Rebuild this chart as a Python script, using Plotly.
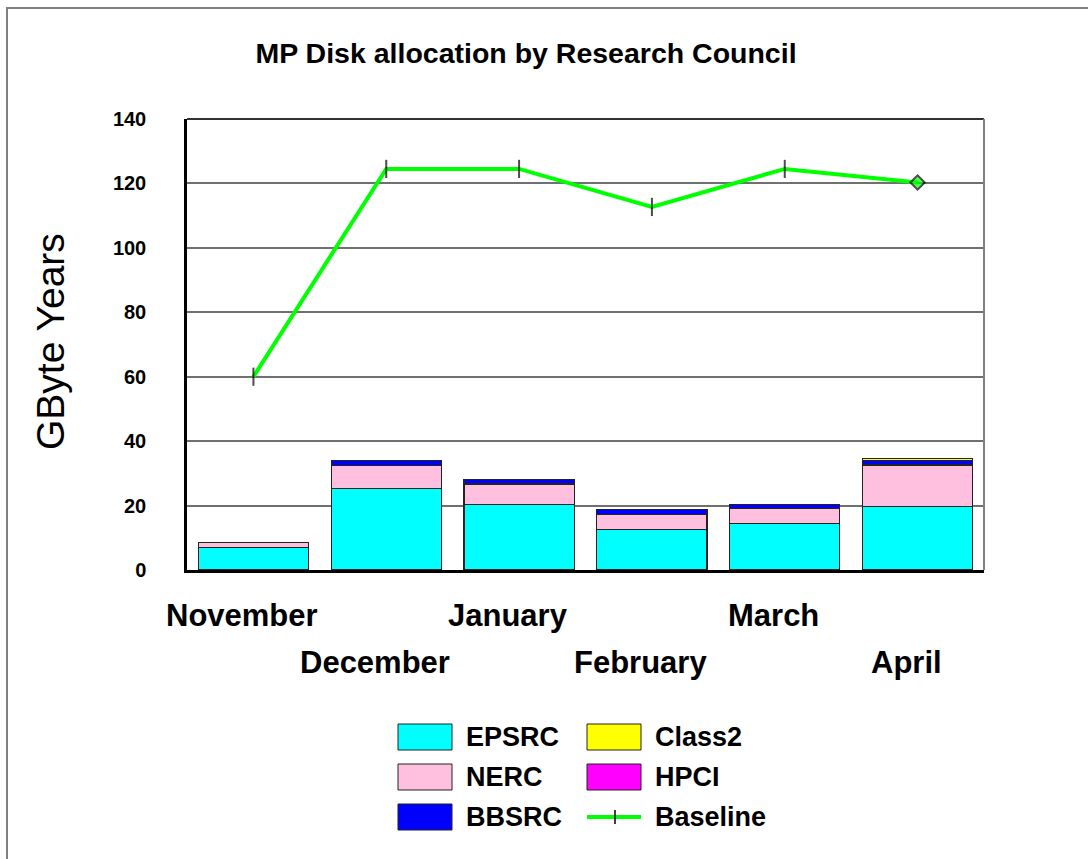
import plotly.graph_objects as go

# --- data -------------------------------------------------------------
months = ["November", "December", "January", "February", "March", "April"]

epsrc = [6.9, 25.2, 20.3, 12.5, 14.4, 19.7]
nerc = [1.7, 7.3, 6.4, 4.8, 4.7, 12.9]
bbsrc = [0.0, 1.4, 1.3, 1.4, 1.3, 1.4]
class2 = [0.0, 0.0, 0.0, 0.0, 0.0, 0.5]
hpci = [0.0, 0.0, 0.0, 0.0, 0.0, 0.0]
baseline = [60.0, 124.5, 124.5, 112.7, 124.5, 120.3]

y_ticks = [0, 20, 40, 60, 80, 100, 120, 140]

# --- styling ----------------------------------------------------------
W, H = 1088, 859
L, R, T, B = 187, 104, 119, 289
FONT = "Arial, Liberation Sans, sans-serif"

series = [
    ("EPSRC", epsrc, "#00FFFF"),
    ("NERC", nerc, "#FFC0E0"),
    ("BBSRC", bbsrc, "#0000FF"),
    ("Class2", class2, "#FFFF00"),
    ("HPCI", hpci, "#FF00FF"),
]
GREEN = "#00FF00"


def px_x(px):
    """Pixel column -> paper x."""
    return (px - L) / (W - L - R)


def px_y(py):
    """Pixel row -> paper y."""
    return (H - B - py) / (H - T - B)


fig = go.Figure()

for name, vals, col in series:
    fig.add_trace(go.Bar(
        x=months, y=vals, name=name,
        marker=dict(color=col, line=dict(color="#222222", width=1.2)),
        showlegend=False,
    ))

n = len(months)
fig.add_trace(go.Scatter(
    x=months, y=baseline, name="Baseline", mode="lines+markers",
    line=dict(color=GREEN, width=4),
    marker=dict(
        symbol=["line-ns"] * (n - 1) + ["diamond"],
        size=[13] * (n - 1) + [11],
        color=["black"] * (n - 1) + [GREEN],
        line=dict(color="black", width=2),
    ),
    showlegend=False,
))

shapes = []
annotations = []

# outer frame
shapes.append(dict(type="rect", xref="paper", yref="paper",
                   x0=px_x(7), x1=px_x(1100), y0=px_y(880), y1=px_y(8),
                   line=dict(color="#808080", width=2), layer="below"))
# top and right edges of the plot area
shapes.append(dict(type="line", xref="paper", yref="paper",
                   x0=0, x1=1, y0=1, y1=1,
                   line=dict(color="#333333", width=2)))
shapes.append(dict(type="line", xref="paper", yref="paper",
                   x0=1, x1=1, y0=0, y1=1,
                   line=dict(color="#808080", width=2)))

# staggered month labels under the axis
for i, m in enumerate(months):
    row_y = 615 if i % 2 == 0 else 662
    annotations.append(dict(
        x=m, xref="x", y=px_y(row_y), yref="paper",
        text=m, showarrow=False, xanchor="center", yanchor="middle",
        xshift=-11,
        font=dict(family=FONT, size=31, color="black", weight="bold"),
    ))

# y axis title
annotations.append(dict(
    x=px_x(50), y=px_y(342), xref="paper", yref="paper",
    text="GByte Years", textangle=-90, showarrow=False,
    xanchor="center", yanchor="middle",
    font=dict(family=FONT, size=39, color="black"),
))

# legend: two columns, three rows
legend_items = [
    ("EPSRC", "#00FFFF"), ("Class2", "#FFFF00"),
    ("NERC", "#FFC0E0"), ("HPCI", "#FF00FF"),
    ("BBSRC", "#0000FF"), ("Baseline", None),
]
col_x = [398, 587]
row_y = [737, 777, 817]
sw_w, sw_h = 54, 26
for k, (name, col) in enumerate(legend_items):
    cx = col_x[k % 2]
    cy = row_y[k // 2]
    if col is not None:
        shapes.append(dict(type="rect", xref="paper", yref="paper",
                           x0=px_x(cx), x1=px_x(cx + sw_w),
                           y0=px_y(cy + sw_h / 2), y1=px_y(cy - sw_h / 2),
                           fillcolor=col, line=dict(color="#222222", width=1)))
    else:
        shapes.append(dict(type="line", xref="paper", yref="paper",
                           x0=px_x(cx), x1=px_x(cx + sw_w),
                           y0=px_y(cy), y1=px_y(cy),
                           line=dict(color=GREEN, width=4)))
        shapes.append(dict(type="line", xref="paper", yref="paper",
                           x0=px_x(cx + 28), x1=px_x(cx + 28),
                           y0=px_y(cy - 7), y1=px_y(cy + 7),
                           line=dict(color="black", width=1.5)))
    annotations.append(dict(
        x=px_x(cx + sw_w + 12), y=px_y(cy), xref="paper", yref="paper",
        text=name, showarrow=False, xanchor="left", yanchor="middle",
        font=dict(family=FONT, size=27, color="black", weight="bold"),
    ))

fig.update_layout(
    width=W, height=H,
    margin=dict(l=L, r=R, t=T, b=B, pad=0),
    paper_bgcolor="white", plot_bgcolor="white",
    barmode="stack", bargap=0.17,
    title=dict(
        text="MP Disk allocation by Research Council",
        x=526 / W, xref="container", xanchor="center",
        y=1 - 53 / H, yref="container", yanchor="middle",
        font=dict(family=FONT, size=28.5, color="black", weight="bold"),
    ),
    xaxis=dict(
        type="category", range=[-0.5, n - 0.5],
        showticklabels=False, ticks="",
        showgrid=False, zeroline=False,
        showline=True, linecolor="black", linewidth=3,
    ),
    yaxis=dict(
        range=[0, 140], tickvals=y_ticks,
        ticks="", ticklabelstandoff=34,
        tickfont=dict(family=FONT, size=20, color="black", weight="bold"),
        showgrid=True, gridcolor="#707070", gridwidth=1.5,
        zeroline=False,
        showline=True, linecolor="black", linewidth=2.5,
    ),
    shapes=shapes,
    annotations=annotations,
    showlegend=False,
)

fig.write_html("out.html")
